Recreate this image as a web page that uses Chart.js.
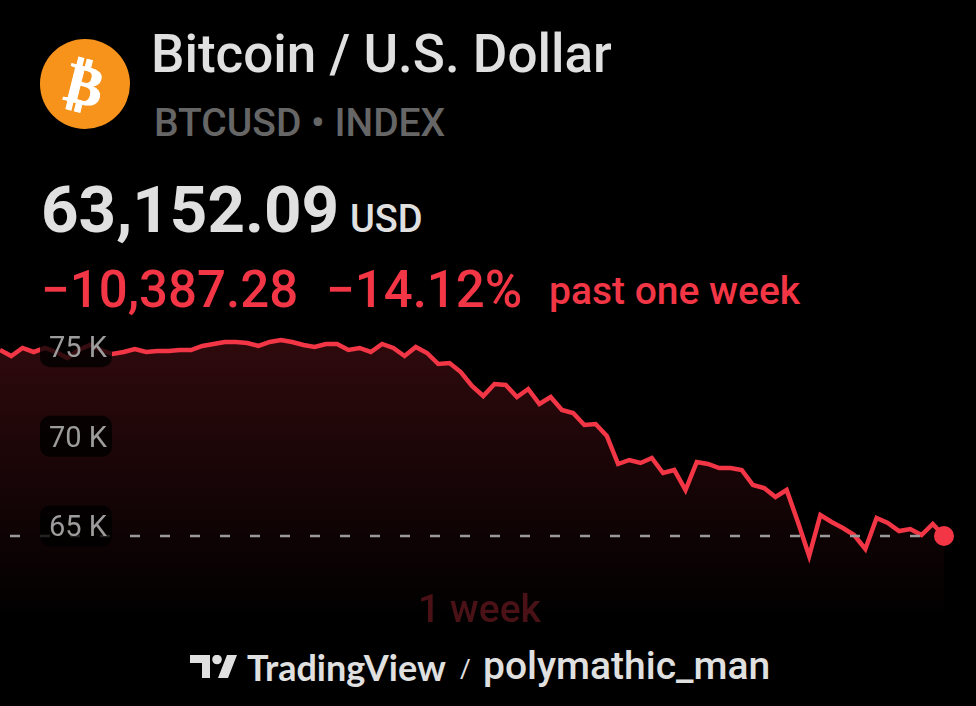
<!DOCTYPE html>
<html>
<head>
<meta charset="utf-8">
<title>Bitcoin / U.S. Dollar</title>
<script src="https://cdn.jsdelivr.net/npm/chart.js@4"></script>
<style>
  html, body { margin: 0; padding: 0; background: #000; }
  #page { position: relative; width: 976px; height: 706px; overflow: hidden; background: #000; font-family: Roboto, sans-serif; }
  #page > div, #page > svg { position: absolute; white-space: nowrap; line-height: 1; }
  #chartWrap { left: 0; top: 320px; width: 976px; height: 320px; }
  .red { color: #f23645; font-weight: 500; }
</style>
</head>
<body>
<div id="page">
  <div id="chartWrap"><canvas id="btcChart" width="976" height="320"></canvas></div>

  <svg style="left:40px;top:39px" width="90" height="90">
    <circle cx="45" cy="45" r="45" fill="#f7931a"/>
    <text x="45" y="65" text-anchor="middle" font-family="DejaVu Sans" font-weight="bold" font-size="56" fill="#fff" stroke="#fff" stroke-width="1" transform="rotate(14 45 45)">₿</text>
  </svg>
  <div style="left:151px;top:28px;font-size:53px;font-weight:500;color:#e0e0e0">Bitcoin / U.S. Dollar</div>
  <div style="left:154px;top:104px;font-size:39px;font-weight:500;color:#666">BTCUSD • INDEX</div>

  <div style="left:41px;top:177px;font-size:65.5px;font-weight:700;color:#e0e0e0">63,152.09</div>
  <div style="left:350px;top:200px;font-size:38px;font-weight:500;color:#e0e0e0">USD</div>

  <div class="red" style="left:41px;top:264px;font-size:51px">−10,387.28</div>
  <div class="red" style="left:326px;top:264px;font-size:51px">−14.12%</div>
  <div class="red" style="left:549px;top:272px;font-size:39px">past one week</div>

  <div style="left:418px;top:590px;font-size:39px;font-weight:500;color:#4a1216">1 week</div>

  <svg style="left:190px;top:655px" width="48" height="24">
    <path d="M0 0H20V23H12V8H0Z M37 0H47L38 23H28Z" fill="#e0e0e0"/>
    <circle cx="27" cy="4.5" r="4.8" fill="#e0e0e0"/>
  </svg>
  <div style="left:247px;top:649px;font-family:Lato, sans-serif;font-weight:700;font-size:36px;color:#e0e0e0">TradingView</div>
  <div style="left:460px;top:656px;font-size:26px;color:#e0e0e0">/</div>
  <div style="left:483px;top:647px;font-size:39px;font-weight:500;color:#e0e0e0">polymathic_man</div>
</div>

<script>
// BTCUSD fiyatı
const prices = [
  73539, 73201, 73648, 73425, 73648, 73425, 73090, 73536, 73816, 73536,
  73313, 73425, 73592, 73425, 73481, 73481, 73536, 73536, 73760, 73871,
  73983, 73983, 73927, 73760, 73983, 74095, 73983, 73816, 73704, 73871,
  73871, 73536, 73648, 73425, 73871, 73648, 73201, 73704, 73369, 72755,
  72811, 72308, 71527, 70968, 71638, 71582, 70912, 71359, 70522, 70912,
  70187, 70019, 69349, 69405, 68735, 67172, 67395, 67228, 67507, 66669,
  66837, 65720, 67283, 67172, 66948, 66948, 66837, 65999, 65832, 65329,
  65720, 63934, 62035, 64324, 63934, 63599, 63208, 62426, 64157, 63878,
  63431, 63543, 63208, 63822, 63152
];
const lastPrice = [63152];
const tickValues = [65000, 70000, 75000];
const tickLabels = ["65 K", "70 K", "75 K"];

const categories = prices.map((_, i) => i);
// kesikli çizgi son noktanın üstüne binmesin
const lastLine = prices.map((_, i) => (i < prices.length - 1 ? lastPrice[0] : null));

// eksen etiketlerinin arkasındaki yarı saydam kutular
const labelBoxes = {
  id: "labelBoxes",
  afterDatasetsDraw(chart) {
    const { ctx, scales: { y } } = chart;
    ctx.save();
    ctx.fillStyle = "rgba(0,0,0,0.78)";
    tickValues.forEach(v => {
      const py = y.getPixelForValue(v) + 23;
      ctx.beginPath();
      ctx.roundRect(40, py - 20.5, 72, 41, 10);
      ctx.fill();
    });
    ctx.restore();
  }
};

new Chart(document.getElementById("btcChart"), {
  type: "line",
  plugins: [labelBoxes],
  data: {
    labels: categories,
    datasets: [
      {
        data: lastLine,
        order: 0,
        borderColor: "#9a9a9a",
        borderWidth: 2.5,
        borderDash: [10, 20],
        borderDashOffset: 20,
        pointRadius: 0,
        fill: false
      },
      {
        data: prices,
        order: 1,
        borderColor: "#f23645",
        borderWidth: 4.5,
        borderJoinStyle: "miter",
        tension: 0,
        pointRadius: c => (c.dataIndex === prices.length - 1 ? 10 : 0),
        pointBackgroundColor: "#f23645",
        pointBorderWidth: 0,
        fill: "start",
        backgroundColor: c => {
          const { ctx, chartArea } = c.chart;
          if (!chartArea) return "transparent";
          const g = ctx.createLinearGradient(0, 15, 0, 300);
          g.addColorStop(0, "#300a0d");
          g.addColorStop(1, "#000000");
          return g;
        }
      }
    ]
  },
  options: {
    responsive: false,
    animation: false,
    layout: { autoPadding: false, padding: { left: 0, right: 32, top: 0, bottom: 0 } },
    plugins: { legend: { display: false }, tooltip: { enabled: false } },
    scales: {
      x: { display: false },
      y: {
        min: 57346,
        max: 75211,
        grid: { display: false, drawTicks: false },
        border: { display: false },
        afterBuildTicks: axis => { axis.ticks = tickValues.map(value => ({ value })); },
        // etiketler çizimin içinde, eksen yer kaplamasın
        afterFit: axis => {
          axis.width = 0;
          axis.paddingTop = axis.paddingBottom = axis.paddingLeft = axis.paddingRight = 0;
        },
        ticks: {
          z: 1,
          mirror: true,
          padding: 49,
          labelOffset: 26,
          color: "#9c9c9c",
          font: { family: "Roboto", size: 29 },
          callback: value => tickLabels[tickValues.indexOf(value)]
        }
      }
    }
  }
});
</script>
</body>
</html>
